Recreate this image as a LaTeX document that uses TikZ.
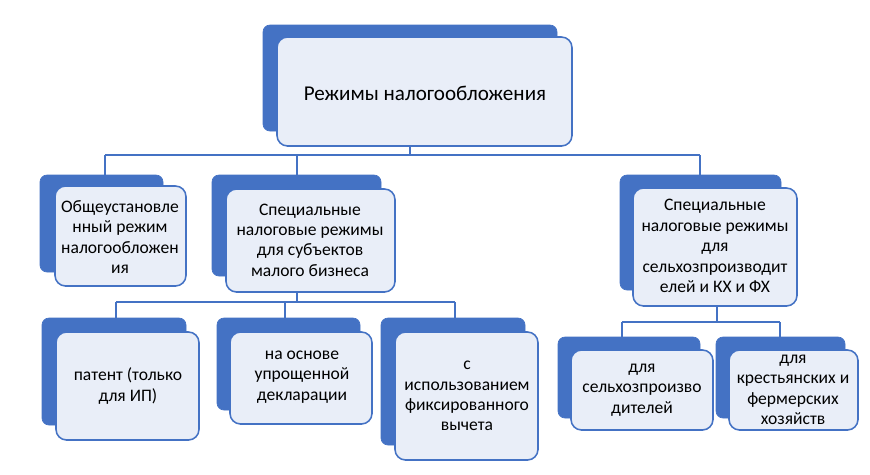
\documentclass[tikz,border=0pt]{standalone}
\usepackage{fontspec}
\setmainfont{Carlito}
\usetikzlibrary{positioning}
\definecolor{boxblue}{HTML}{4472C4}
\definecolor{boxfill}{HTML}{E9EEF8}
\tikzset{back/.style={fill=boxblue, draw=boxblue, rounded corners=4pt},
  front/.style={fill=boxfill, draw=boxblue, line width=0.9pt, rounded corners=6pt},
  lbl/.style={align=center, font=\fontsize{10pt}{11.6pt}\selectfont},
  link/.style={draw=boxblue, line width=0.9pt}}
% \twobox{name}{back corners}{front corners}
\newcommand{\twobox}[5]{%
  \fill[back] #2 rectangle #3;
  \draw[front] #4 rectangle #5;}
\begin{document}
\begin{tikzpicture}[x=0.02cm,y=-0.02cm]
  \useasboundingbox (0,0) rectangle (870,474);

  \twobox{top}{(263,25)}{(557,131)}{(277,37)}{(572,146)}
  \node[lbl, font=\fontsize{12pt}{14pt}\selectfont] (top) at (425,93) {Режимы налогообложения};

  \twobox{gen}{(40,175)}{(163,272)}{(55,186)}{(186,286)}
  \node[lbl] (gen) at (120,237) {Общеустановле\\нный режим\\налогообложен\\ия};
  \twobox{small}{(212,175)}{(381,276)}{(226,189)}{(395,292)}
  \node[lbl] (small) at (310,240) {Специальные\\налоговые режимы\\для субъектов\\малого бизнеса};
  \twobox{agro}{(620,175)}{(781,290)}{(633,188)}{(797,306)}
  \node[lbl] (agro) at (715,246) {Специальные\\налоговые режимы\\для\\сельхозпроизводит\\елей и КХ и ФХ};

  \twobox{pat}{(42,318)}{(186,425)}{(56,332)}{(199,440)}
  \node[lbl] (pat) at (128,386) {патент (только\\для ИП)};
  \twobox{decl}{(217,318)}{(360,410)}{(230,332)}{(372,424)}
  \node[lbl] (decl) at (302,377) {на основе\\упрощенной\\декларации};
  \twobox{fix}{(381,318)}{(525,445)}{(395,332)}{(538,460)}
  \node[lbl] (fix) at (467,396) {с\\использованием\\фиксированного\\вычета};
  \twobox{prod}{(558,337)}{(700,418)}{(571,350)}{(713,430)}
  \node[lbl] (prod) at (642,390) {для\\сельхозпроизво\\дителей};
  \twobox{farm}{(716,337)}{(845,418)}{(729,350)}{(858,430)}
  \node[lbl] (farm) at (793,390) {для\\крестьянских и\\фермерских\\хозяйств};

  \coordinate (t1) at (410,146);
  \coordinate (b1) at (297,292);
  \coordinate (c1) at (717,306);
  \draw[link] (t1) -- (410,155) (105,155) -- (700,155)
    (105,155) -- (105,175) (297,155) -- (297,175) (700,155) -- (700,175);
  \draw[link] (b1) -- (297,302) (116,302) -- (455,302)
    (116,302) -- (116,318) (285,302) -- (285,318) (455,302) -- (455,318);
  \draw[link] (c1) -- (717,322) (622,322) -- (780,322)
    (622,322) -- (622,337) (780,322) -- (780,337);
\end{tikzpicture}
\end{document}
